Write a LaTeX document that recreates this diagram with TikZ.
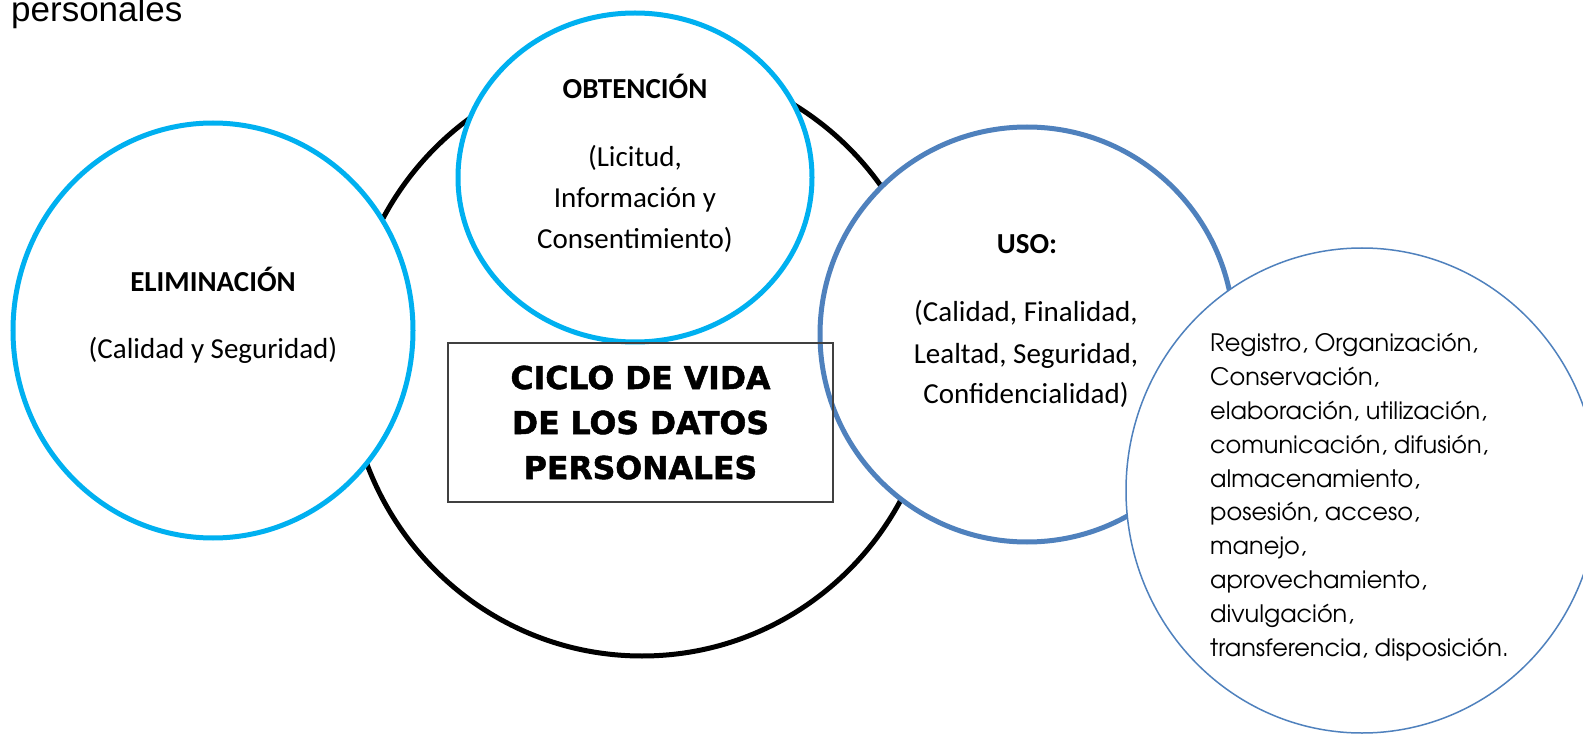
\documentclass[tikz,border=0pt]{standalone}
\usepackage{fontspec}
\setmainfont{Carlito}
\newfontfamily\arialf{Liberation Sans}
\newfontfamily\heavyf{DejaVu Sans}[BoldFeatures={FakeBold=1.6}]
\IfFontExistsTF{texgyreadventor-regular.otf}{\newfontfamily\gothicf{texgyreadventor-regular.otf}}{\newfontfamily\gothicf{Poppins}}
\definecolor{cyanb}{HTML}{00B0F0}
\definecolor{steel}{HTML}{4F81BD}
\definecolor{boxgray}{HTML}{404040}
\tikzset{
  ring/.style={line width=5pt, fill=white},
  lbl/.style={font=\fontsize{29}{35}\selectfont, anchor=base, inner sep=0pt},
  ttl/.style={font=\fontsize{29}{35}\selectfont\bfseries, anchor=base, inner sep=0pt},
  heavy/.style={font=\heavyf\bfseries\fontsize{31.5}{38}\selectfont, anchor=base, inner sep=0pt},
  listtxt/.style={font=\gothicf\fontsize{24}{30}\selectfont, anchor=base west, inner sep=0pt},
}
\begin{document}
\begin{tikzpicture}[x=1pt,y=-1pt]
\useasboundingbox (0,0) rectangle (1583,735);
\clip (0,0) rectangle (1583,735);
\fill[white] (0,0) rectangle (1583,735);
% big black circle
\draw[line width=5pt, black] (642,359) ellipse [x radius=294pt, y radius=297pt];
% eliminacion
\draw[ring, draw=cyanb] (213,330.5) ellipse [x radius=200pt, y radius=207.5pt];
% obtencion
\draw[ring, draw=cyanb] (635,177.5) ellipse [x radius=177pt, y radius=164.5pt];
% uso
\draw[ring, draw=steel] (1027,334.5) ellipse [x radius=207pt, y radius=207.5pt];
% list circle
\draw[line width=1.5pt, draw=steel, fill=white] (1362,490.5) ellipse [x radius=236pt, y radius=242.5pt];
% central box
\node[draw=boxgray, line width=1.5pt, minimum width=385pt, minimum height=159pt, inner sep=0pt] (box) at (640.5,422.5) {};
% top fragment
\node[font=\arialf\fontsize{35}{40}\selectfont, anchor=base west, inner sep=0pt] (frag) at (11,22) {personales};
% texts
\node[ttl] (elimT) at (213,292) {ELIMINACIÓN};
\node[lbl] (elimB) at (213,359) {(Calidad y Seguridad)};
\node[ttl] (obtT) at (635,99) {OBTENCIÓN};
\node[lbl] (obt1) at (635,167) {(Licitud,};
\node[lbl] (obt2) at (635,208) {Información y};
\node[lbl] (obt3) at (635,249) {Consentimiento)};
\node[ttl] (usoT) at (1027,254) {USO:};
\node[lbl] (uso1) at (1026,322) {(Calidad, Finalidad,};
\node[lbl] (uso2) at (1026,363) {Lealtad, Seguridad,};
\node[lbl] (uso3) at (1026,403) {Confidencialidad)};
\node[heavy] (c1) at (640.5,389) {CICLO DE VIDA};
\node[heavy] (c2) at (640.5,434) {DE LOS DATOS};
\node[heavy] (c3) at (640.5,479) {PERSONALES};
\foreach \t [count=\i] in {{Registro, Organización,},{Conservación,},{elaboración, utilización,},{comunicación, difusión,},{almacenamiento,},{posesión, acceso,},{manejo,},{aprovechamiento,},{divulgación,},{transferencia, disposición.}}
  \node[listtxt] (r\i) at (1210,{352+(\i-1)*33.78}) {\t};
\end{tikzpicture}
\end{document}
